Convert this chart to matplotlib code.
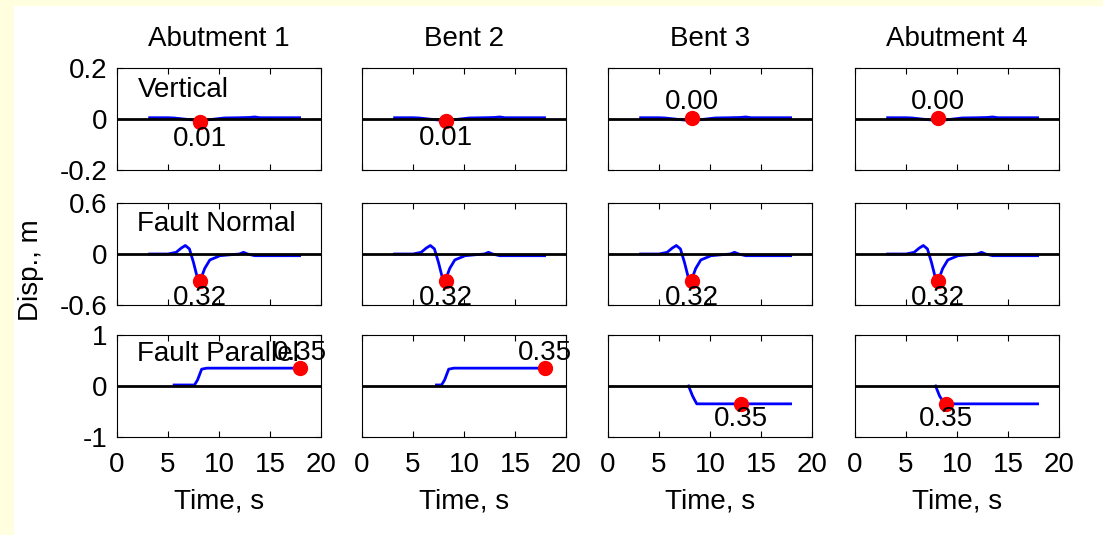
import matplotlib.pyplot as plt
from matplotlib.patches import Rectangle

plt.rcParams["font.family"] = ["Liberation Sans", "DejaVu Sans"]

# colonne e righe
supports = ["Abutment 1", "Bent 2", "Bent 3", "Abutment 4"]
components = ["Vertical", "Fault Normal", "Fault Parallel"]
y_limits = [0.2, 0.6, 1.0]
y_ticklabels = [["-0.2", "0", "0.2"], ["-0.6", "0", "0.6"], ["-1", "0", "1"]]
x_ticks = [0, 5, 10, 15, 20]

# storie di spostamento (stesse per tutti gli appoggi in verticale e fault normal)
t_vert = [3.2, 5.0, 5.6, 6.5, 7.5, 8.1, 9.0, 10.5, 12.0, 13.0, 13.5, 14.0, 16.0, 17.9]
d_vert = [0.005, 0.005, 0.004, 0.0, -0.004, -0.006, -0.003, 0.004, 0.005, 0.006, 0.008, 0.005, 0.005, 0.005]

t_fn = [3.2, 5.0, 5.8, 6.3, 6.7, 7.1, 7.5, 7.9, 8.2, 8.6, 9.1, 10.1, 11.0, 12.0, 12.4, 12.8, 13.5, 15.0, 17.9]
d_fn = [0.0, 0.0, 0.02, 0.07, 0.1, 0.06, -0.1, -0.29, -0.3, -0.17, -0.07, -0.02, -0.01, 0.0, 0.02, 0.0, -0.02, -0.02, -0.02]

t_fp = [
    [5.6, 7.6, 7.9, 8.3, 8.8, 17.9],
    [7.3, 7.8, 8.1, 8.5, 9.0, 17.9],
    [7.9, 8.3, 8.7, 17.9],
    [7.9, 8.3, 8.8, 17.9],
]
d_fp = [
    [0.02, 0.02, 0.12, 0.33, 0.35, 0.35],
    [0.02, 0.02, 0.12, 0.33, 0.35, 0.35],
    [0.0, -0.2, -0.35, -0.35],
    [0.0, -0.2, -0.35, -0.35],
]

# punti di massimo (tempo, valore) per riga e colonna
peak_t = [
    [8.1, 8.2, 8.2, 8.1],
    [8.1, 8.2, 8.2, 8.1],
    [17.9, 17.9, 13.0, 8.9],
]
peak_d = [
    [-0.012, -0.008, 0.003, 0.003],
    [-0.32, -0.32, -0.32, -0.32],
    [0.35, 0.35, -0.35, -0.35],
]

W, H = 1103, 535
fig = plt.figure(figsize=(W / 100, H / 100), dpi=100, facecolor="#ffffe0")
fig.patches.append(Rectangle((14 / W, 0), 1 - 14 / W, 1 - 6 / H,
                             transform=fig.transFigure, facecolor="white",
                             edgecolor="none", zorder=-10))

lefts = [117, 362, 608, 855]
tops = [68, 203, 335]
ax_w, ax_h = 204, 102
fs = 20
label_off = [0.065, 0.2, 0.3]

for r in range(3):
    for c in range(4):
        ax = fig.add_axes([lefts[c] / W, 1 - (tops[r] + ax_h) / H, ax_w / W, ax_h / H])
        lim = y_limits[r]
        if r == 0:
            t, d = t_vert, d_vert
        elif r == 1:
            t, d = t_fn, d_fn
        else:
            t, d = t_fp[c], d_fp[c]
        ax.plot(t, d, color="#0000ff", lw=2, zorder=2)
        ax.axhline(0, color="black", lw=2, zorder=3)
        pt, pd_ = peak_t[r][c], peak_d[r][c]
        ax.plot([pt], [pd_], "o", color="#ff0000", ms=10, zorder=4)
        sign = 1 if pd_ >= 0 else -1
        ax.text(pt, pd_ + sign * label_off[r], f"{abs(pd_):.2f}",
                ha="center", va="center", fontsize=fs, zorder=5, clip_on=False)

        ax.set_xlim(0, 20)
        ax.set_ylim(-lim, lim)
        ax.set_xticks(x_ticks)
        ax.set_yticks([-lim, 0, lim])
        ax.tick_params(direction="in", top=True, right=True, length=4,
                       labelsize=fs, color="black")
        ax.tick_params(axis="x", pad=11)
        ax.tick_params(axis="y", pad=7)
        for s in ax.spines.values():
            s.set_linewidth(0.8)
        if c == 0:
            ax.set_yticklabels(y_ticklabels[r])
            ax.text(2.0, [0.115, 0.35, 0.63][r], components[r], fontsize=fs,
                    ha="left", va="center", zorder=1)
        else:
            ax.set_yticklabels([])
        if r == 2:
            ax.set_xticklabels([str(x) for x in x_ticks])
            ax.set_xlabel("Time, s", fontsize=fs, labelpad=7)
        else:
            ax.set_xticklabels([])
        if r == 0:
            ax.set_title(supports[c], fontsize=fs, pad=16)

fig.text(31 / W, 1 - 270 / H, "Disp., m", rotation=90, fontsize=fs,
         ha="center", va="center")

fig.savefig("out.png", dpi=100, facecolor=fig.get_facecolor())
